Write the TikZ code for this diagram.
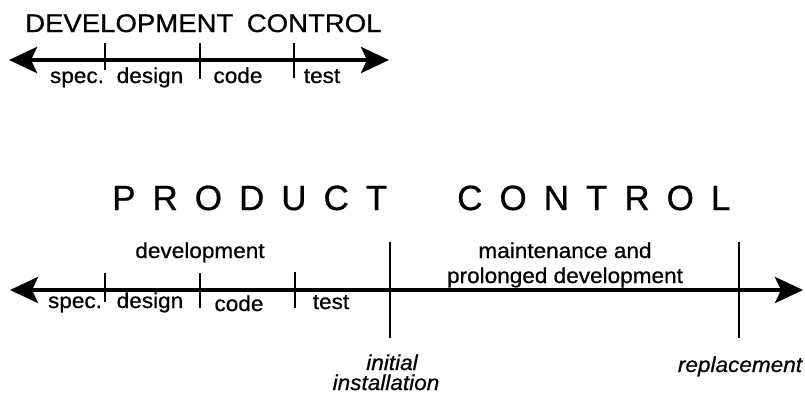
\documentclass[tikz,border=0pt]{standalone}
\usepackage{fontspec}
\usetikzlibrary{arrows.meta}
\setmainfont{Liberation Sans}
\newfontfamily\headfont[FakeStretch=1.08,FakeBold=0.7]{Liberation Sans}
\newfontfamily\spacedfont[FakeBold=0.7]{Liberation Sans}
\newfontfamily\labelfont[FakeStretch=1.05,FakeBold=0.7]{Liberation Sans}
\newcommand\trk{\hspace{17pt}}
\tikzset{
  timeline/.style={line width=4.5pt,
    {Stealth[length=28pt,width=26pt,inset=6pt]}-{Stealth[length=28pt,width=26pt,inset=6pt]}},
  tick/.style={line width=1.5pt},
  phase/.style={inner sep=0pt, anchor=base, font=\labelfont\fontsize{21.5}{24}\selectfont},
  event/.style={phase, font=\labelfont\itshape\fontsize{21.5}{24}\selectfont},
}
\begin{document}
\begin{tikzpicture}[x=1pt,y=-1pt]
\useasboundingbox (0,0) rectangle (805,397);

% ---- development control ----
\node[inner sep=0pt, anchor=base west, font=\headfont\fontsize{25.5}{28}\selectfont]
  (devtitle) at (25,32) {DEVELOPMENT\hspace{13.5pt}CONTROL};

\coordinate (dL) at (9,60);
\coordinate (dR) at (389,60);
\draw[timeline] (dL) -- (dR);

\coordinate (dt1a) at (105,43); \coordinate (dt1b) at (105,70);
\coordinate (dt2a) at (200,43); \coordinate (dt2b) at (200,79);
\coordinate (dt3a) at (294,43); \coordinate (dt3b) at (294,78);
\draw[tick] (dt1a) -- (dt1b);
\draw[tick] (dt2a) -- (dt2b);
\draw[tick] (dt3a) -- (dt3b);

\node[phase] (dspec)   at (77,83)  {spec.};
\node[phase] (ddesign) at (150,83) {design};
\node[phase] (dcode)   at (238,83) {code};
\node[phase] (dtest)   at (322,83) {test};

% ---- product control ----
\node[inner sep=0pt, anchor=base west, font=\spacedfont\fontsize{35}{38}\selectfont]
  (prodtitle) at (112,210)
  {P\trk R\trk O\trk D\trk U\trk C\trk T\hspace{70pt}C\trk O\trk N\trk T\trk R\trk O\trk L};

\coordinate (pL) at (10,290);
\coordinate (pR) at (803,290);
\draw[timeline, line width=4pt] (pL) -- (pR);

\coordinate (pt1a) at (105,273); \coordinate (pt1b) at (105,302);
\coordinate (pt2a) at (200,273); \coordinate (pt2b) at (200,308);
\coordinate (pt3a) at (295,272); \coordinate (pt3b) at (295,308);
\coordinate (inst1) at (390,242); \coordinate (inst2) at (390,338);
\coordinate (repl1) at (739,242); \coordinate (repl2) at (739,338);
\draw[tick] (pt1a) -- (pt1b);
\draw[tick] (pt2a) -- (pt2b);
\draw[tick] (pt3a) -- (pt3b);
\draw[tick] (inst1) -- (inst2);
\draw[tick] (repl1) -- (repl2);

\node[phase] (pspec)   at (75,308)  {spec.};
\node[phase] (pdesign) at (150,308) {design};
\node[phase] (pcode)   at (239,311) {code};
\node[phase] (ptest)   at (331,309) {test};

\node[phase] (pdev)   at (200,258) {development};
\node[phase] (maint1) at (565,258) {maintenance and};
\node[phase] (maint2) at (565,283) {prolonged development};

\node[event] (initA) at (392,370) {initial};
\node[event] (initB) at (386,390) {installation};
\node[event] (repl)  at (740,372) {replacement};
\end{tikzpicture}
\end{document}
